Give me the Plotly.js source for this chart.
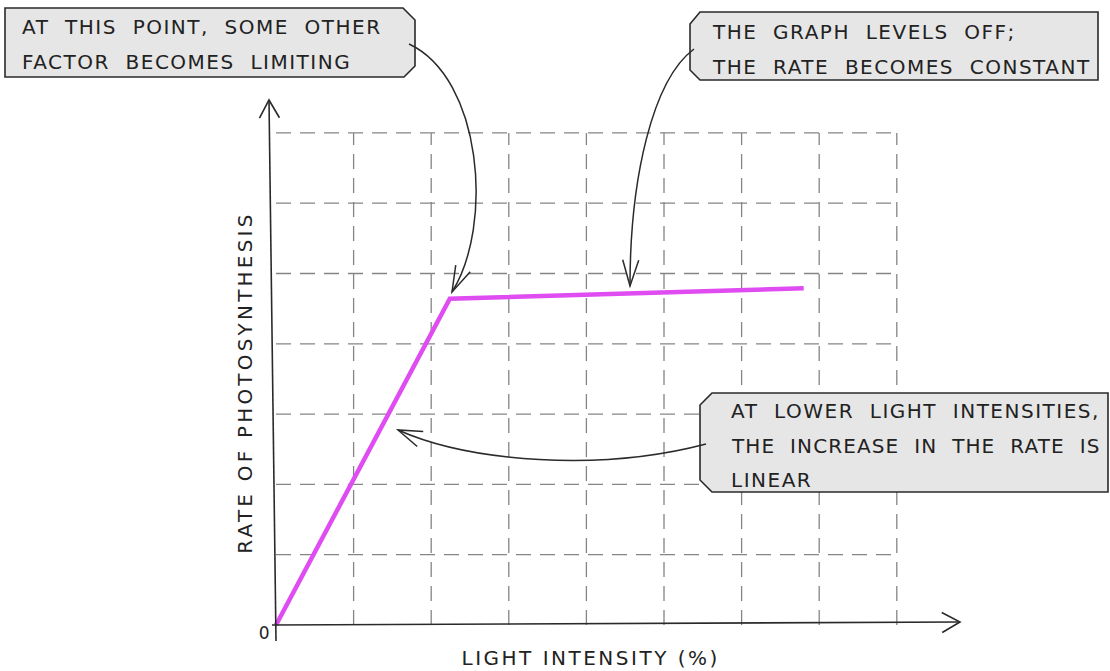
<!DOCTYPE html>
<html><head><meta charset="utf-8">
<script src="https://cdn.plot.ly/plotly-3.0.1.min.js"></script>
<style>
html,body{margin:0;padding:0;background:#fff}#chart{width:1110px;height:671px}
.annotation-text{letter-spacing:1.5px}
g.annotation[data-index="5"] text{letter-spacing:1.1px}
g.annotation[data-index="7"] text{letter-spacing:2.5px}
g.annotation[data-index="8"] text{letter-spacing:3.2px}
g.annotation[data-index="9"] text{letter-spacing:0}
</style>
</head><body><div id="chart"></div>
<script>
// ---- data (grid units) ----
const lightIntensity = [0, 2.24, 6.80];
const photosynthesisRate = [0, 4.64, 4.79];
const gridX = [1, 2, 3, 4, 5, 6, 7, 8];
const gridY = [1, 2, 3, 4, 5, 6, 7];
const xTitle = 'LIGHT INTENSITY (%)';
const yTitle = 'RATE OF PHOTOSYNTHESIS';
const originLabel = '0';
const note1 = ['AT  THIS  POINT,  SOME  OTHER', 'FACTOR  BECOMES  LIMITING'];
const note2 = ['THE  GRAPH  LEVELS  OFF;', 'THE  RATE  BECOMES  CONSTANT'];
const note3 = ['AT  LOWER  LIGHT  INTENSITIES,', 'THE  INCREASE  IN  THE  RATE  IS', 'LINEAR'];

// ---- layout helpers ----
const W = 1110, H = 671;
const X0 = 276, Y0 = 625, UX = 77.6, UY = 70.3;
const xRange = [-X0 / UX, (W - X0) / UX];
const yRange = [(Y0 - H) / UY, Y0 / UY];
const dx = p => (p - X0) / UX;
const dy = p => (Y0 - p) / UY;
const nb = s => s.replace(/ /g, '\u00a0');
const P = (x, y) => dx(x).toFixed(4) + ',' + dy(y).toFixed(4);
const poly = pts => 'M' + pts.map(p => P(p[0], p[1])).join('L') + 'Z';
const bez = (a, b, c, d) => 'M' + P(a[0], a[1]) + 'C' + P(b[0], b[1]) + ' ' + P(c[0], c[1]) + ' ' + P(d[0], d[1]);
function chevron(tip, from, len, hw) {
  let ux = tip[0] - from[0], uy = tip[1] - from[1];
  const n = Math.hypot(ux, uy); ux /= n; uy /= n;
  const bx = tip[0] - len * ux, by = tip[1] - len * uy;
  const nx = -uy, ny = ux;
  return 'M' + P(bx + hw * nx, by + hw * ny) + 'L' + P(tip[0], tip[1]) + 'L' + P(bx - hw * nx, by - hw * ny);
}

const ink = '#2a2a2a';
const shapes = [];
// grid
gridX.forEach(g => shapes.push({type: 'line', layer: 'below', x0: g, x1: g, y0: 0, y1: gridY[gridY.length - 1],
  line: {color: '#858585', width: 1.3, dash: '15px,9px'}}));
gridY.forEach(g => shapes.push({type: 'line', layer: 'below', x0: 0, x1: gridX[gridX.length - 1], y0: g, y1: g,
  line: {color: '#858585', width: 1.3, dash: '15px,9px'}}));
// axes
shapes.push({type: 'path', layer: 'above', path: 'M' + P(276, 641) + 'L' + P(269, 100), line: {color: ink, width: 1.6}});
shapes.push({type: 'path', layer: 'above', path: 'M' + P(272, 625) + 'L' + P(960, 622), line: {color: ink, width: 1.6}});
shapes.push({type: 'path', layer: 'above', path: chevron([269, 100], [270, 140], 18, 10), line: {color: ink, width: 1.6}});
shapes.push({type: 'path', layer: 'above', path: chevron([960, 622], [920, 623], 18, 10), line: {color: ink, width: 1.6}});
// callout boxes
const boxStyle = {fillcolor: '#e6e6e6', line: {color: ink, width: 1.6}, layer: 'above'};
shapes.push(Object.assign({type: 'path', path: poly([[5, 8], [403, 8], [415, 20], [415, 66], [404, 77], [5, 77]])}, boxStyle));
shapes.push(Object.assign({type: 'path', path: poly([[700, 12], [1098, 12], [1098, 80], [700, 80], [690, 70], [690, 24]])}, boxStyle));
shapes.push(Object.assign({type: 'path', path: poly([[712, 393], [1108, 393], [1108, 492], [712, 492], [700, 480], [700, 405]])}, boxStyle));
// curved leader arrows
const arrowLine = {color: ink, width: 1.5};
shapes.push({type: 'path', layer: 'above', path: bez([409, 44], [482, 78], [494, 225], [452, 292]), line: arrowLine});
shapes.push({type: 'path', layer: 'above', path: chevron([452, 292], [466, 262], 26, 8), line: arrowLine});
shapes.push({type: 'path', layer: 'above', path: bez([694, 49], [652, 80], [630, 180], [630, 286]), line: arrowLine});
shapes.push({type: 'path', layer: 'above', path: chevron([630, 286], [631, 250], 26, 8), line: arrowLine});
shapes.push({type: 'path', layer: 'above', path: bez([706, 444], [600, 472], [470, 462], [398, 430]), line: arrowLine});
shapes.push({type: 'path', layer: 'above', path: chevron([398, 430], [430, 443], 24, 8), line: arrowLine});

const font = {family: 'DejaVu Sans', size: 20, color: '#222'};
const annotations = [];
function addLines(lines, xpx, ypxs) {
  lines.forEach((t, i) => annotations.push({x: dx(xpx), y: dy(ypxs[i]), xref: 'x', yref: 'y', text: nb(t),
    showarrow: false, xanchor: 'left', yanchor: 'middle', align: 'left', font: font}));
}
addLines(note1, 20, [27, 62]);
addLines(note2, 710, [32, 67]);
addLines(note3, 729, [411, 446, 480]);
annotations.push({x: dx(590), y: dy(658), text: nb(xTitle), showarrow: false, font: font, xanchor: 'center', yanchor: 'middle'});
annotations.push({x: dx(245), y: dy(383), text: nb(yTitle), showarrow: false, font: font, textangle: -90, xanchor: 'center', yanchor: 'middle'});
annotations.push({x: dx(264), y: dy(633), text: originLabel, showarrow: false, font: {family: 'DejaVu Sans', size: 17, color: '#222'}, xanchor: 'center', yanchor: 'middle'});

const traces = [
  {x: lightIntensity, y: photosynthesisRate, type: 'scatter', mode: 'lines',
   line: {color: '#df4cf2', width: 4.5}, hoverinfo: 'skip'},
  {x: [dx(406), dx(697), dx(710)], y: [dy(42), dy(46), dy(444)], type: 'scatter', mode: 'markers',
   marker: {symbol: 'circle', size: 8, color: '#e6e6e6', line: {color: ink, width: 1.5}}, hoverinfo: 'skip'}
];

const layout = {
  width: W, height: H, margin: {l: 0, r: 0, t: 0, b: 0},
  paper_bgcolor: '#fff', plot_bgcolor: '#fff', showlegend: false,
  xaxis: {range: xRange, visible: false, fixedrange: true},
  yaxis: {range: yRange, visible: false, fixedrange: true},
  shapes: shapes, annotations: annotations
};
Plotly.newPlot('chart', traces, layout, {displayModeBar: false, staticPlot: true});
</script></body></html>
